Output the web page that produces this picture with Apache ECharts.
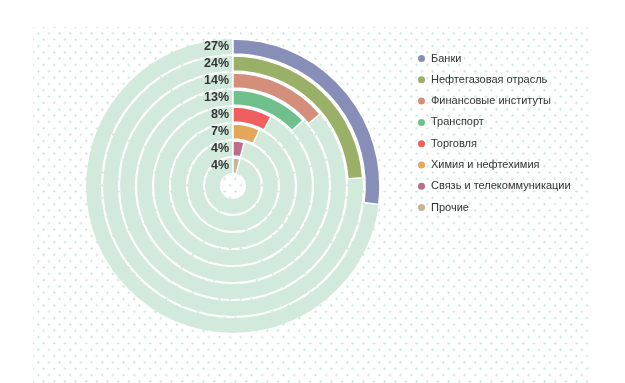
<!DOCTYPE html>
<html>
<head>
<meta charset="utf-8">
<script src="https://cdn.jsdelivr.net/npm/echarts@6/dist/echarts.min.js"></script>
<style>
  html, body { margin: 0; padding: 0; background: #fff; }
  #wrap { position: relative; width: 625px; height: 383px; overflow: hidden; }
  #dots {
    position: absolute; left: 33px; top: 27px; width: 558px; height: 356px;
    background-image:
      radial-gradient(circle, #c9e6dc 0.9px, rgba(255,255,255,0) 1.3px),
      radial-gradient(circle, #c9e6dc 0.9px, rgba(255,255,255,0) 1.3px);
    background-size: 10.67px 12.67px, 10.67px 12.67px;
    background-position: 0px 0px, 5.33px 6.33px;
  }
  #main { position: absolute; left: 0; top: 0; width: 625px; height: 383px; }
</style>
</head>
<body>
<div id="wrap">
  <div id="dots"></div>
  <div id="main"></div>
</div>
<script>
// Data (outermost ring first, same order as legend)
const categories = ['Банки', 'Нефтегазовая отрасль', 'Финансовые институты', 'Транспорт', 'Торговля', 'Химия и нефтехимия', 'Связь и телекоммуникации', 'Прочие'];
const values = [27, 24, 14, 13, 8, 7, 4, 4];
const colors = ['#878fb8', '#9bb067', '#d48f7a', '#6fc08c', '#ef5f5f', '#e4a65a', '#bf6b8c', '#c6b493'];
const backgroundValues = [100, 100, 100, 100, 100, 100, 100, 100];

const chart = echarts.init(document.getElementById('main'), null, { renderer: 'canvas' });

const series = [{
  name: 'bg',
  type: 'bar',
  coordinateSystem: 'polar',
  data: backgroundValues,
  barCategoryGap: '13%',
  barGap: '-100%',
  itemStyle: { color: '#d2eadb' },
  silent: true,
  z: 1
}];
categories.forEach((name, i) => {
  series.push({
    name: name,
    type: 'bar',
    coordinateSystem: 'polar',
    data: categories.map((c, j) => (j === i ? values[i] : '-')),
    barCategoryGap: '13%',
    barGap: '-100%',
    itemStyle: { color: colors[i], borderColor: '#ffffff', borderWidth: 1.5 },
    label: {
      show: true,
      position: 'start',
      distance: 4,
      formatter: '{c}%',
      fontFamily: 'Liberation Sans',
      fontWeight: 'bold',
      fontSize: 12.5,
      color: '#333333'
    },
    z: 2
  });
});

chart.setOption({
  animation: false,
  backgroundColor: 'transparent',
  color: colors,
  polar: { center: [233, 186], radius: [12, 148] },
  angleAxis: {
    type: 'value', min: 0, max: 100, startAngle: 90, clockwise: true,
    show: false
  },
  radiusAxis: {
    type: 'category', data: categories, inverse: true, show: false
  },
  legend: {
    orient: 'vertical',
    left: 411, top: 48,
    icon: 'circle',
    itemWidth: 9, itemHeight: 9, itemGap: 10.3,
    data: categories,
    textStyle: { fontFamily: 'Liberation Sans', fontSize: 11, color: '#333' }
  },
  series: series
});
</script>
</body>
</html>
